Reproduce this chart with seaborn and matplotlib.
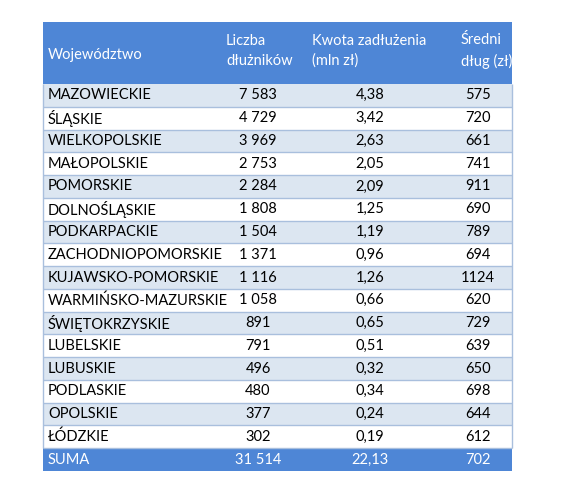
import matplotlib
matplotlib.use("Agg")
import matplotlib.pyplot as plt
import seaborn as sns

regions = ["MAZOWIECKIE", "ŚLĄSKIE", "WIELKOPOLSKIE", "MAŁOPOLSKIE", "POMORSKIE", "DOLNOŚLĄSKIE",
           "PODKARPACKIE", "ZACHODNIOPOMORSKIE", "KUJAWSKO-POMORSKIE", "WARMIŃSKO-MAZURSKIE",
           "ŚWIĘTOKRZYSKIE", "LUBELSKIE", "LUBUSKIE", "PODLASKIE", "OPOLSKIE", "ŁÓDZKIE"]
debtors = ["7 583", "4 729", "3 969", "2 753", "2 284", "1 808", "1 504", "1 371", "1 116", "1 058",
           "891", "791", "496", "480", "377", "302"]
amount = ["4,38", "3,42", "2,63", "2,05", "2,09", "1,25", "1,19", "0,96", "1,26", "0,66",
          "0,65", "0,51", "0,32", "0,34", "0,24", "0,19"]
avg = ["575", "720", "661", "741", "911", "690", "789", "694", "1124", "620",
       "729", "639", "650", "698", "644", "612"]
total = ["SUMA", "31 514", "22,13", "702"]
headers = ["Województwo", "Liczba\ndłużników", "Kwota zadłużenia\n(mln zł)", "Średni\ndług (zł)"]

sns.set_theme(style="white")
plt.rcParams['font.family'] = ['Lato', 'DejaVu Sans']

fig = plt.figure(figsize=(5.81, 4.80), dpi=100)
ax = fig.add_axes([0, 0, 1, 1])
ax.set_xlim(0, 581)
ax.set_ylim(480, 0)
ax.axis("off")

L, R = 43, 512
top, hb, bot = 22, 84, 471
n = len(regions) + 1
rh = (bot - hb) / n
head_c = "#4E86D6"
alt_c = "#DCE6F1"
line_c = "#A9BFDD"

ax.barh([(top + hb) / 2], [R - L], left=L, height=hb - top, color=head_c, lw=0)
for i in range(len(regions)):
    y = hb + rh * (i + 0.5)
    ax.barh([y], [R - L], left=L, height=rh, color=alt_c if i % 2 == 0 else "white", lw=0)
    ax.hlines(hb + rh * (i + 1), L, R, color=line_c, lw=1)
ax.barh([bot - rh / 2], [R - L], left=L, height=rh, color=head_c, lw=0)
ax.vlines([L, R], hb, bot - rh, color=line_c, lw=1)

fs = 10.5
ax.text(48, (top + hb) / 2 + 2, headers[0], color="white", fontsize=fs, va="center", ha="left")
for x, h in zip([226, 312, 461], headers[1:]):
    ax.text(x, (top + hb) / 2 - 2, h, color="white", fontsize=fs, va="center", ha="left", linespacing=1.5)

cx = [258, 370, 478]
for i in range(len(regions)):
    y = hb + rh * (i + 0.5)
    ax.text(48, y, regions[i], fontsize=fs, va="center", ha="left", color="black")
    for x, v in zip(cx, [debtors[i], amount[i], avg[i]]):
        ax.text(x, y, v, fontsize=fs, va="center", ha="center", color="black")
y = bot - rh / 2
ax.text(48, y, total[0], fontsize=fs, va="center", ha="left", color="white")
for x, v in zip(cx, total[1:]):
    ax.text(x, y, v, fontsize=fs, va="center", ha="center", color="white")

fig.savefig("out.png", dpi=100)
